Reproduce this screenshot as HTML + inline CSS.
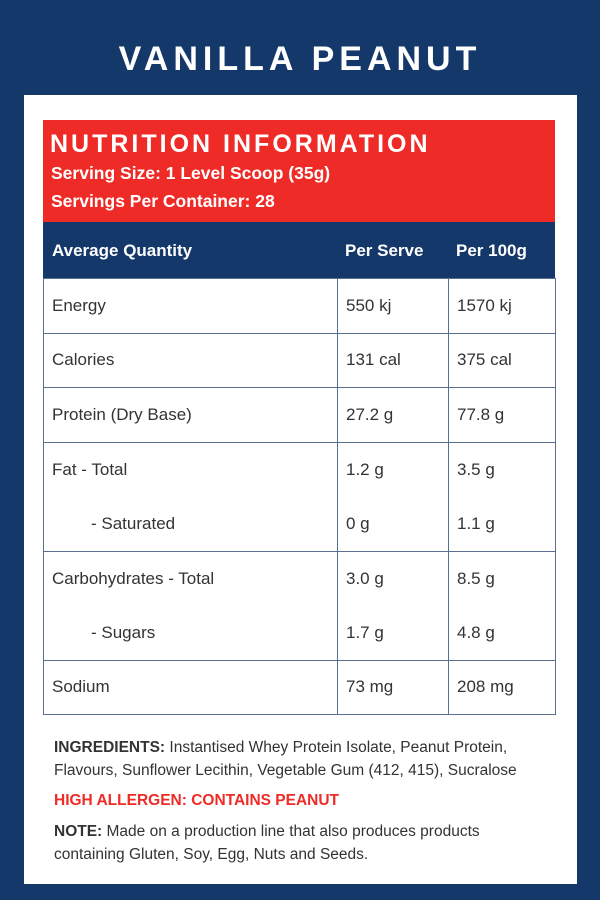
<!DOCTYPE html>
<html><head><meta charset="utf-8"><style>
*{margin:0;padding:0;box-sizing:border-box}
body{width:600px;height:900px;background:#15386a;font-family:"Liberation Sans",sans-serif;position:relative;overflow:hidden}
.a{position:absolute;white-space:nowrap}
#title{left:0;width:600px;top:40px;text-align:center;color:#fff;font-size:34px;font-weight:bold;letter-spacing:5px}
#panel{left:24px;top:95px;width:553px;height:789px;background:#fff}
#red{left:43px;top:120px;width:512px;height:102px;background:#ee2b26;color:#fff}
#hdr{left:43px;top:222px;width:512px;height:56px;background:#15386a;color:#fff;font-weight:bold;font-size:17px}
table{position:absolute;left:43px;top:278px;width:513px;border-collapse:collapse;font-size:17px;color:#333}
td{border:1.5px solid #5a6f90;height:54.5px;padding-left:8px;vertical-align:middle}
td.n{border-bottom:none}td.m{border-top:none}
.c1{width:294px}.c2{width:111px}
.foot{left:54px;font-size:15.5px;color:#333}
</style></head><body>
<div class="a" id="title">VANILLA PEANUT</div>
<div class="a" id="panel"></div>
<div class="a" id="red">
 <div class="a" style="left:7px;top:10px;font-size:25px;font-weight:bold;letter-spacing:3px">NUTRITION INFORMATION</div>
 <div class="a" style="left:8px;top:43px;font-size:17.5px;font-weight:bold">Serving Size: 1 Level Scoop (35g)</div>
 <div class="a" style="left:8px;top:71px;font-size:17.5px;font-weight:bold">Servings Per Container: 28</div>
</div>
<div class="a" id="hdr">
 <div class="a" style="left:9px;top:19px">Average Quantity</div>
 <div class="a" style="left:302px;top:19px">Per Serve</div>
 <div class="a" style="left:413px;top:19px">Per 100g</div>
</div>
<table>
<tr><td class="c1">Energy</td><td class="c2">550 kj</td><td>1570 kj</td></tr>
<tr><td>Calories</td><td>131 cal</td><td>375 cal</td></tr>
<tr><td>Protein (Dry Base)</td><td>27.2 g</td><td>77.8 g</td></tr>
<tr><td class="n">Fat - Total</td><td class="n">1.2 g</td><td class="n">3.5 g</td></tr>
<tr><td class="m" style="padding-left:47px">- Saturated</td><td class="m">0 g</td><td class="m">1.1 g</td></tr>
<tr><td class="n">Carbohydrates - Total</td><td class="n">3.0 g</td><td class="n">8.5 g</td></tr>
<tr><td class="m" style="padding-left:47px">- Sugars</td><td class="m">1.7 g</td><td class="m">4.8 g</td></tr>
<tr><td>Sodium</td><td>73 mg</td><td>208 mg</td></tr>
</table>
<div class="a foot" style="top:739px"><b>INGREDIENTS:</b> Instantised Whey Protein Isolate, Peanut Protein,</div>
<div class="a foot" style="top:762px">Flavours, Sunflower Lecithin, Vegetable Gum (412, 415), Sucralose</div>
<div class="a foot" style="top:792px;color:#ee2b26;font-weight:bold">HIGH ALLERGEN: CONTAINS PEANUT</div>
<div class="a foot" style="top:823px"><b>NOTE:</b> Made on a production line that also produces products</div>
<div class="a foot" style="top:846px">containing Gluten, Soy, Egg, Nuts and Seeds.</div>
</body></html>
